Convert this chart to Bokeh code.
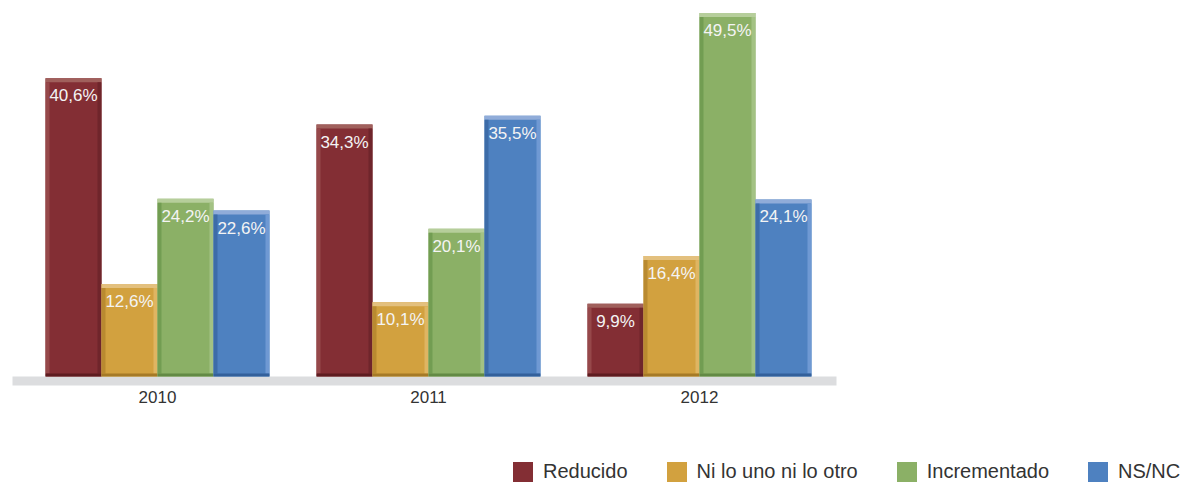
from bokeh.plotting import figure
from bokeh.models import Range1d, Legend, LegendItem, ColumnDataSource
from bokeh.embed import file_html
from bokeh.resources import INLINE

# ---- data ----
years = ["2010", "2011", "2012"]
series = ["Reducido", "Ni lo uno ni lo otro", "Incrementado", "NS/NC"]
reducido = [40.6, 34.3, 9.9]
ni_lo_uno = [12.6, 10.1, 16.4]
incrementado = [24.2, 20.1, 49.5]
ns_nc = [22.6, 35.5, 24.1]
values = [reducido, ni_lo_uno, incrementado, ns_nc]

# ---- style ----
main_col = ["#832e34", "#d2a13f", "#8bb066", "#4e81c0"]
top_col = ["#a0605c", "#e3c07e", "#b6ce9b", "#90acd9"]
left_col = ["#96484a", "#b98a30", "#729d52", "#3d6ca8"]
right_col = ["#6f252b", "#dfb562", "#a3c283", "#6f99d3"]
bottom_col = ["#5e1c20", "#a57a27", "#638a45", "#33609b"]

W, H = 1194, 484
PX_X = 271.0          # pixels per category step
X0 = 157.0            # pixel of first category from frame left
x_start = -X0 / PX_X
x_end = x_start + W / PX_X
BASE_Y = 376          # baseline pixel from top
BAND_PX = 9           # floor band height
PX_Y = 7.345
y_end = BASE_Y / PX_Y
y_start = -(H - BASE_Y) / PX_Y

bar_w = 56 / PX_X
edge_x = 4 / PX_X
edge_top = 4 / PX_Y
edge_bot = 3 / PX_Y

p = figure(width=W, height=H, output_backend="svg", toolbar_location=None,
           x_range=Range1d(x_start, x_end), y_range=Range1d(y_start, y_end),
           x_axis_location=None, y_axis_location=None,
           min_border_left=0, min_border_right=0, min_border_top=0,
           min_border_bottom=0)
p.outline_line_color = None
p.grid.visible = False
p.background_fill_color = "white"

# floor band
p.quad(left=[x_start + 12 / PX_X], right=[x_start + 836 / PX_X],
       bottom=[-BAND_PX / PX_Y], top=[0], fill_color="#dcdddf", line_color=None)

# category labels
p.text(x=list(range(len(years))), y=[-BAND_PX / PX_Y] * len(years), text=years,
       text_align="center", text_baseline="top", y_offset=5,
       text_color="#333333", text_font_size="17px",
       text_font={"value": "Liberation Sans"})

items = []
n = len(series)
for i, (name, vals) in enumerate(zip(series, values)):
    off = (i - (n - 1) / 2) * bar_w
    xs = [k + off for k in range(len(years))]
    src = ColumnDataSource(dict(
        x=xs, top=vals,
        l=[x - bar_w / 2 for x in xs], r=[x + bar_w / 2 for x in xs],
        li=[x - bar_w / 2 + edge_x for x in xs], ri=[x + bar_w / 2 - edge_x for x in xs],
        tb=[v - edge_top for v in vals],
        lab=[f"{v:.1f}".replace(".", ",") + "%" for v in vals],
    ))
    main = p.vbar(x="x", top="top", bottom=0, width=bar_w, source=src,
                  fill_color=main_col[i], line_color=None)
    # bevel edges
    p.quad(left="l", right="r", top="top", bottom="tb",
           source=src, fill_color=top_col[i], line_color=None)
    p.quad(left="l", right="li", top="tb", bottom=edge_bot,
           source=src, fill_color=left_col[i], line_color=None)
    p.quad(left="ri", right="r", top="tb", bottom=edge_bot,
           source=src, fill_color=right_col[i], line_color=None)
    p.quad(left="l", right="r", top=edge_bot, bottom=0,
           source=src, fill_color=bottom_col[i], line_color=None)
    p.text(x="x", y="top", text="lab", source=src, text_align="center",
           text_baseline="top", y_offset=8, text_color="#f4f4f4",
           text_font_size="17px", text_font={"value": "Liberation Sans"})
    items.append(LegendItem(label=name, renderers=[main]))

legend = Legend(items=items, orientation="horizontal", location=(510, 0),
                glyph_width=25, glyph_height=25, label_standoff=8, spacing=36,
                padding=0, margin=0, border_line_color=None, background_fill_alpha=0,
                label_text_font_size="20px", label_text_font="Liberation Sans",
                label_text_color="#333333", label_height=25)
p.add_layout(legend)

open("out.html", "w").write(file_html(p, INLINE))
